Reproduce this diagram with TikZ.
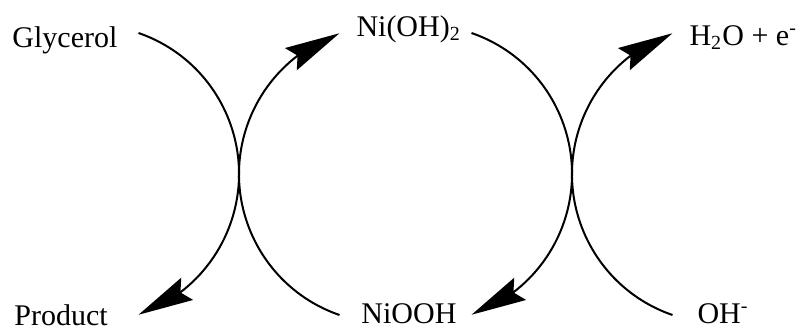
\documentclass[tikz,border=0pt]{standalone}
\usepackage{fontspec}
\setmainfont{Liberation Serif}
\usetikzlibrary{arrows.meta, bending}
\tikzset{
  species/.style={inner sep=0pt, anchor=base west, font=\rmfamily\fontsize{12}{14}\selectfont},
  cyc/.style={line width=0.8pt, -{Stealth[length=22pt, width=10pt, inset=3pt]}},
}
\newcommand{\cycR}{149}

\begin{document}
\begin{tikzpicture}[x=0.4pt, y=0.4pt]
  \useasboundingbox (0,0) rectangle (802,329);

  % Species
  \node[species] (glycerol) at (12,282)  {Glycerol};
  \node[species] (product)  at (14,4)    {Product};
  \node[species] (nioh)     at (356,293) {Ni(OH)\textsubscript{2}};
  \node[species] (niooh)    at (361,6)   {NiOOH};
  \node[species] (water)    at (689,284) {H\textsubscript{2}O + e\textsuperscript{-}};
  \node[species] (hydrox)   at (697,6)   {OH\textsuperscript{-}};

  % Arc ends
  \coordinate (glyIn)   at (138.5,296);
  \coordinate (nioohIn) at (339.5,14);
  \coordinate (niohIn)  at (471.5,296);
  \coordinate (hydIn)   at (672.5,14);

  % Cycles
  \draw[cyc] (glyIn)   arc[start angle=71,  end angle=-71, radius=\cycR];
  \draw[cyc] (nioohIn) arc[start angle=251, end angle=109, radius=\cycR];
  \draw[cyc] (niohIn)  arc[start angle=71,  end angle=-71, radius=\cycR];
  \draw[cyc] (hydIn)   arc[start angle=251, end angle=109, radius=\cycR];
\end{tikzpicture}
\end{document}
